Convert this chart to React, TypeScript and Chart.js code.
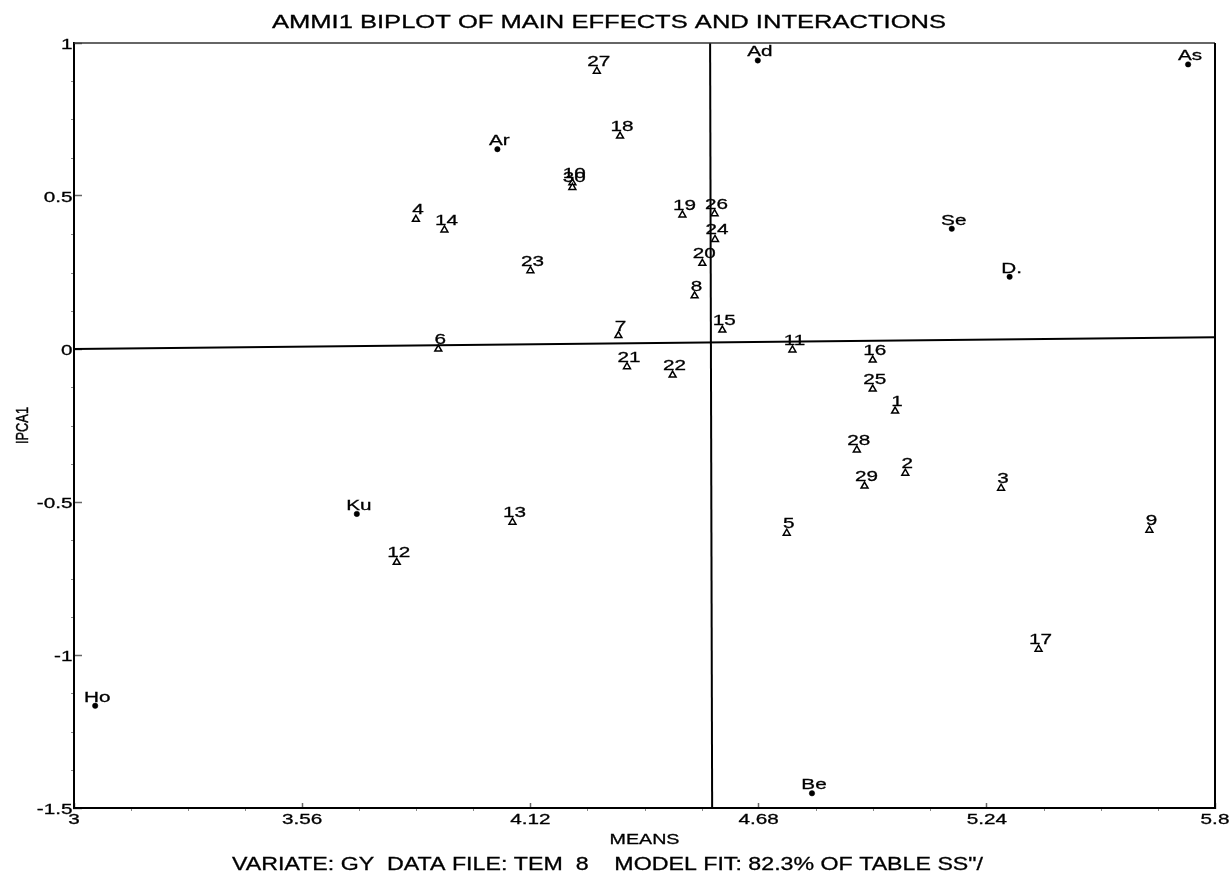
import React, { useEffect, useRef } from "react";
import { Chart, registerables } from "chart.js";

Chart.register(...registerables);

const TITLE = "AMMI1 BIPLOT OF MAIN EFFECTS AND INTERACTIONS";
const X_TITLE = "MEANS";
const Y_TITLE = "IPCA1";
const FOOTER = 'VARIATE: GY  DATA FILE: TEM  8    MODEL FIT: 82.3% OF TABLE SS"/';

const X_MIN = 3;
const X_MAX = 5.8;
const X_STEP = 0.56;
const X_MINOR = 0.14;
const Y_MIN = -1.5;
const Y_MAX = 1;
const Y_STEP = 0.5;
const Y_MINOR = 0.125;

const genotypeLabels = [
  "1", "2", "3", "4", "5", "6", "7", "8", "9", "10",
  "11", "12", "13", "14", "15", "16", "17", "18", "19", "20",
  "21", "22", "23", "24", "25", "26", "27", "28", "29", "30",
];
const genotypeMeans = [
  5.015, 5.04, 5.275, 3.839, 4.749, 3.894, 4.336, 4.523, 5.639, 4.223,
  4.763, 3.792, 4.076, 3.909, 4.591, 4.96, 5.367, 4.34, 4.493, 4.542,
  4.357, 4.469, 4.12, 4.573, 4.96, 4.572, 4.283, 4.921, 4.94, 4.223,
];
const genotypeIPCA1 = [
  -0.203, -0.406, -0.455, 0.424, -0.602, 0.0, 0.044, 0.174, -0.592, 0.543,
  -0.003, -0.697, -0.566, 0.389, 0.062, -0.036, -0.981, 0.696, 0.438, 0.28,
  -0.058, -0.085, 0.256, 0.358, -0.131, 0.442, 0.908, -0.33, -0.448, 0.528,
];

const envLabels = ["Ad", "As", "Ar", "Se", "D.", "Ku", "Be", "Ho"];
const envMeans = [4.678, 5.734, 4.039, 5.154, 5.296, 3.694, 4.811, 3.052];
const envIPCA1 = [0.943, 0.93, 0.653, 0.393, 0.236, -0.539, -1.452, -1.166];

const grandMeanX = [4.561, 4.566];
const grandMeanY = [1, -1.5];
const ipcaZeroX = [3, 5.8];
const ipcaZeroY = [0, 0.038];

const FONT = 'Arial, "Liberation Sans", sans-serif';
const STRETCH = 1.38;

const fmtTick = (v: any) => String(Math.round(Number(v) * 100) / 100);

function fitText(ctx: CanvasRenderingContext2D, text: string, cx: number, baseline: number, px: number, width: number) {
  ctx.save();
  ctx.font = `${px}px ${FONT}`;
  const w = ctx.measureText(text).width;
  ctx.translate(cx, baseline);
  ctx.scale(width / w, 1);
  ctx.textAlign = "center";
  ctx.textBaseline = "alphabetic";
  ctx.fillStyle = "#000";
  ctx.strokeStyle = "#000";
  ctx.lineWidth = 0.3;
  ctx.fillText(text, 0, 0);
  ctx.strokeText(text, 0, 0);
  ctx.restore();
}

function stretchText(ctx: CanvasRenderingContext2D, text: string, x: number, baseline: number, px: number, sx: number, align: CanvasTextAlign) {
  ctx.save();
  ctx.font = `${px}px ${FONT}`;
  ctx.translate(x, baseline);
  ctx.scale(sx, 1);
  ctx.textAlign = align;
  ctx.textBaseline = "alphabetic";
  ctx.fillStyle = "#000";
  ctx.strokeStyle = "#000";
  ctx.lineWidth = 0.3;
  ctx.fillText(text, 0, 0);
  ctx.strokeText(text, 0, 0);
  ctx.restore();
}

const decorPlugin = {
  id: "decor",
  afterDatasetsDraw(chart: any) {
    const ctx: CanvasRenderingContext2D = chart.ctx;
    chart.data.datasets.forEach((ds: any, i: number) => {
      if (!ds.pointLabels) return;
      const meta = chart.getDatasetMeta(i);
      meta.data.forEach((pt: any, j: number) => {
        stretchText(ctx, ds.pointLabels[j], pt.x + 2, pt.y - ds.labelLift, 15, STRETCH, "center");
      });
    });
  },
  afterDraw(chart: any) {
    const ctx: CanvasRenderingContext2D = chart.ctx;
    const { left, right, top, bottom } = chart.chartArea;
    const xs = chart.scales.x;
    const ys = chart.scales.y;
    ctx.save();
    // frame top and right
    ctx.strokeStyle = "#333";
    ctx.lineWidth = 1.5;
    ctx.beginPath();
    ctx.moveTo(left, top);
    ctx.lineTo(right, top);
    ctx.stroke();
    ctx.strokeStyle = "#000";
    ctx.lineWidth = 2;
    ctx.beginPath();
    ctx.moveTo(right, top);
    ctx.lineTo(right, bottom);
    ctx.stroke();
    // minor ticks
    ctx.strokeStyle = "#888";
    ctx.lineWidth = 1;
    const ny = Math.round((Y_MAX - Y_MIN) / Y_MINOR);
    for (let k = 0; k <= ny; k++) {
      if (k % 4 === 0) continue;
      const py = Math.round(ys.getPixelForValue(Y_MIN + k * Y_MINOR)) + 0.5;
      ctx.beginPath();
      ctx.moveTo(left - 3, py);
      ctx.lineTo(left - 1, py);
      ctx.stroke();
    }
    const nx = Math.round((X_MAX - X_MIN) / X_MINOR);
    for (let k = 0; k <= nx; k++) {
      if (k % 4 === 0) continue;
      const px = Math.round(xs.getPixelForValue(X_MIN + k * X_MINOR)) + 0.5;
      ctx.beginPath();
      ctx.moveTo(px, bottom + 1);
      ctx.lineTo(px, bottom + 3);
      ctx.stroke();
    }
    ctx.restore();

    // tick labels from the library's scales
    xs.ticks.forEach((t: any) => {
      stretchText(ctx, fmtTick(t.value), xs.getPixelForValue(t.value), bottom + 16, 15, STRETCH, "center");
    });
    ys.ticks.forEach((t: any) => {
      stretchText(ctx, fmtTick(t.value), left - 1.5, ys.getPixelForValue(t.value) + 5.5, 15, STRETCH, "right");
    });

    fitText(ctx, TITLE, 609, 28.3, 18, 674);
    fitText(ctx, X_TITLE, (left + right) / 2, 844, 15, 70);
    fitText(ctx, FOOTER, 607.5, 870, 18, 751);

    // rotated y title
    ctx.save();
    ctx.font = `13px ${FONT}`;
    const w = ctx.measureText(Y_TITLE).width;
    ctx.translate(23, (top + bottom) / 2);
    ctx.rotate(-Math.PI / 2);
    ctx.scale(37 / w, 1.3);
    ctx.textAlign = "center";
    ctx.textBaseline = "middle";
    ctx.fillStyle = "#000";
    ctx.strokeStyle = "#000";
    ctx.lineWidth = 0.35;
    ctx.fillText(Y_TITLE, 0, 0);
    ctx.strokeText(Y_TITLE, 0, 0);
    ctx.restore();
  },
};

export default function App() {
  const ref = useRef<HTMLCanvasElement | null>(null);

  useEffect(() => {
    if (!ref.current) return;
    const chart = new Chart(ref.current, {
      type: "scatter",
      data: {
        datasets: [
          {
            label: "Genotypes",
            data: genotypeMeans.map((x, i) => ({ x, y: genotypeIPCA1[i] })),
            pointStyle: "triangle",
            pointRadius: 4,
            pointBackgroundColor: "#fff",
            pointBorderColor: "#000",
            pointBorderWidth: 1.5,
            order: 0,
            pointLabels: genotypeLabels,
            labelLift: 5,
          } as any,
          {
            label: "Environments",
            data: envMeans.map((x, i) => ({ x, y: envIPCA1[i] })),
            pointStyle: "circle",
            pointRadius: 2.7,
            pointBackgroundColor: "#000",
            pointBorderColor: "#000",
            pointBorderWidth: 0.5,
            order: 0,
            pointLabels: envLabels,
            labelLift: 4,
          } as any,
          {
            label: "Grand mean",
            data: grandMeanX.map((x, i) => ({ x, y: grandMeanY[i] })),
            showLine: true,
            pointRadius: 0,
            borderColor: "#000",
            borderWidth: 2,
            order: 2,
          } as any,
          {
            label: "IPCA1 = 0",
            data: ipcaZeroX.map((x, i) => ({ x, y: ipcaZeroY[i] })),
            showLine: true,
            pointRadius: 0,
            borderColor: "#000",
            borderWidth: 2,
            order: 2,
          } as any,
        ],
      },
      options: {
        responsive: true,
        maintainAspectRatio: false,
        animation: false,
        events: [],
        layout: { padding: { left: 0, top: 43, right: 15, bottom: 0 } },
        plugins: {
          legend: { display: false },
          tooltip: { enabled: false },
          title: { display: false },
        },
        scales: {
          x: {
            type: "linear",
            min: X_MIN,
            max: X_MAX,
            ticks: {
              stepSize: X_STEP,
              display: false,
              callback: fmtTick,
              autoSkip: false,
            },
            grid: {
              drawOnChartArea: false,
              drawTicks: true,
              tickLength: -5,
              tickColor: "#666",
              tickWidth: 1.5,
            },
            border: { display: true, color: "#000", width: 2 },
            afterFit: (s: any) => {
              s.height = 64;
            },
          },
          y: {
            type: "linear",
            min: Y_MIN,
            max: Y_MAX,
            ticks: {
              stepSize: Y_STEP,
              display: false,
              callback: fmtTick,
              autoSkip: false,
            },
            grid: {
              drawOnChartArea: false,
              drawTicks: true,
              tickLength: -8,
              tickColor: "#666",
              tickWidth: 1.5,
            },
            border: { display: true, color: "#000", width: 2 },
            afterFit: (s: any) => {
              s.width = 74;
            },
          },
        },
      } as any,
      plugins: [decorPlugin as any],
    });
    return () => chart.destroy();
  }, []);

  return (
    <div style={{ position: "fixed", left: 0, top: 0, width: 1230, height: 872, background: "#fff" }}>
      <canvas ref={ref} />
    </div>
  );
}
